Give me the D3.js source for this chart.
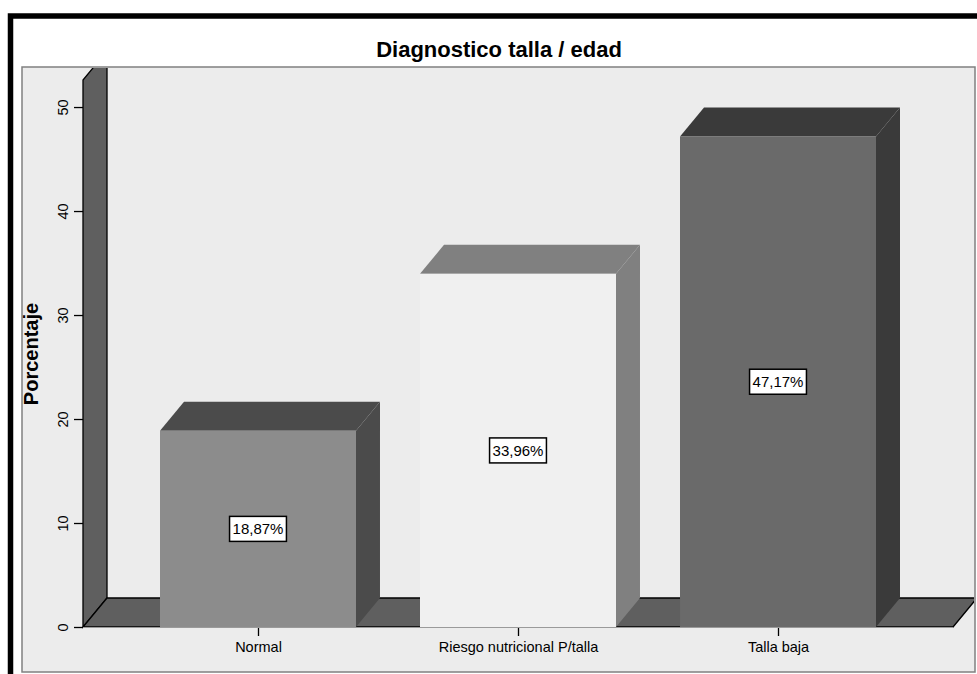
<!DOCTYPE html>
<html><head><meta charset="utf-8">
<script src="https://cdn.jsdelivr.net/npm/d3@7"></script>
<style>
html,body{margin:0;padding:0;background:#fff;}
svg{display:block;font-family:"Liberation Sans",Arial,sans-serif;}
</style></head>
<body>
<script>
const title = "Diagnostico talla / edad";
const yLabel = "Porcentaje";
const categories = ["Normal", "Riesgo nutricional P/talla", "Talla baja"];
const values = [18.87, 33.96, 47.17];
const valueLabels = ["18,87%", "33,96%", "47,17%"];
const yTicks = [0, 10, 20, 30, 40, 50];
const frontColors = ["#8c8c8c", "#f0f0f0", "#6a6a6a"];
const darkColors = ["#4b4b4b", "#808080", "#3a3a3a"];

const W = 977, H = 674;
const svg = d3.select("body").append("svg").attr("width", W).attr("height", H);

// outer frame
svg.append("rect").attr("x", 10.5).attr("y", 16).attr("width", 1200).attr("height", 1200)
  .attr("fill", "#fff").attr("stroke", "#000").attr("stroke-width", 5.5);

// plot area
const pa = {x: 22, y: 67, w: 953, h: 605};
svg.append("rect").attr("x", pa.x).attr("y", pa.y).attr("width", pa.w).attr("height", pa.h)
  .attr("fill", "#ececec").attr("stroke", "#808080").attr("stroke-width", 1.5);

svg.append("defs").append("clipPath").attr("id", "pclip").append("rect")
  .attr("x", pa.x + 1).attr("y", pa.y + 1).attr("width", pa.w - 2).attr("height", pa.h - 2);

const dx = 24, dy = -29;
const y = d3.scaleLinear().domain([0, 52.6]).range([627, 80]);
const x = d3.scaleBand().domain(categories).range([160, 876]).paddingInner(0.2462).paddingOuter(0);

const wallX = 83, floorEnd = 953;
const g = svg.append("g").attr("clip-path", "url(#pclip)");
const line = d3.line();

// left wall
g.append("path").attr("d", line([[wallX, y(0)], [wallX, y(52.6)], [wallX + dx, y(52.6) + dy], [wallX + dx, y(0) + dy]]) + "Z")
  .attr("fill", "#5f5f5f").attr("stroke", "#000").attr("stroke-width", 1.3);
// floor
g.append("path").attr("d", line([[wallX, y(0)], [floorEnd, y(0)], [floorEnd + dx, y(0) + dy], [wallX + dx, y(0) + dy]]) + "Z")
  .attr("fill", "#5f5f5f").attr("stroke", "#000").attr("stroke-width", 1.3);

// bars
categories.forEach((c, i) => {
  const x0 = x(c), x1 = x(c) + x.bandwidth();
  const yt = y(values[i]), yb = y(0);
  const bg = g.append("g");
  bg.append("path").attr("d", line([[x1, yb], [x1, yt], [x1 + dx, yt + dy], [x1 + dx, yb + dy]]) + "Z")
    .attr("fill", darkColors[i]);
  bg.append("path").attr("d", line([[x0, yt], [x1, yt], [x1 + dx, yt + dy], [x0 + dx, yt + dy]]) + "Z")
    .attr("fill", darkColors[i]);
  bg.append("rect").attr("x", x0).attr("y", yt).attr("width", x.bandwidth()).attr("height", yb - yt)
    .attr("fill", frontColors[i]);
});
// bottom base line
g.append("line").attr("x1", wallX).attr("x2", floorEnd).attr("y1", y(0) + 0.5).attr("y2", y(0) + 0.5)
  .attr("stroke", "#9a9a9a").attr("stroke-width", 1);

// value labels
categories.forEach((c, i) => {
  const cx = x(c) + x.bandwidth() / 2, cy = y(values[i] / 2);
  const t = svg.append("text").attr("x", cx).attr("y", cy + 5.5).attr("text-anchor", "middle")
    .attr("font-size", 15).attr("fill", "#000").text(valueLabels[i]);
  const bb = t.node().getBBox();
  svg.insert("rect", () => t.node()).attr("x", bb.x - 3).attr("y", cy - 12.5).attr("width", bb.width + 6).attr("height", 25)
    .attr("fill", "#fff").attr("stroke", "#000").attr("stroke-width", 1.5);
});

// y axis
const ya = svg.append("g").attr("transform", `translate(${wallX},0)`)
  .call(d3.axisLeft(y).tickValues(yTicks).tickSize(9).tickPadding(0).tickFormat(d3.format("d")));
ya.select(".domain").remove();
ya.selectAll(".tick line").attr("stroke", "#000").attr("stroke-width", 1.3);
ya.selectAll(".tick text").attr("transform", "translate(-20,0) rotate(-90)").attr("x", 0).attr("dy", "0.35em")
  .attr("text-anchor", "middle").attr("font-size", 14.5).attr("font-family", "Liberation Sans, Arial, sans-serif").attr("fill", "#000");

// x axis
const xc = d3.scalePoint().domain(categories).range([x(categories[0]) + x.bandwidth() / 2, x(categories[2]) + x.bandwidth() / 2]);
const xa = svg.append("g").attr("transform", `translate(0,${y(0) + 1})`)
  .call(d3.axisBottom(xc).tickSize(8).tickPadding(3));
xa.select(".domain").remove();
xa.selectAll(".tick line").attr("stroke", "#000").attr("stroke-width", 1.3);
xa.selectAll(".tick text").attr("y", 24).attr("dy", 0).attr("font-size", 14.5)
  .attr("font-family", "Liberation Sans, Arial, sans-serif").attr("fill", "#000");

// title
svg.append("text").attr("x", 499).attr("y", 57).attr("text-anchor", "middle")
  .attr("font-size", 22).attr("font-weight", "bold").attr("fill", "#000").text(title);

// y label
svg.append("text").attr("transform", "translate(38,354) rotate(-90)").attr("text-anchor", "middle")
  .attr("font-size", 20).attr("font-weight", "bold").attr("fill", "#000").text(yLabel);
</script>
</body></html>
